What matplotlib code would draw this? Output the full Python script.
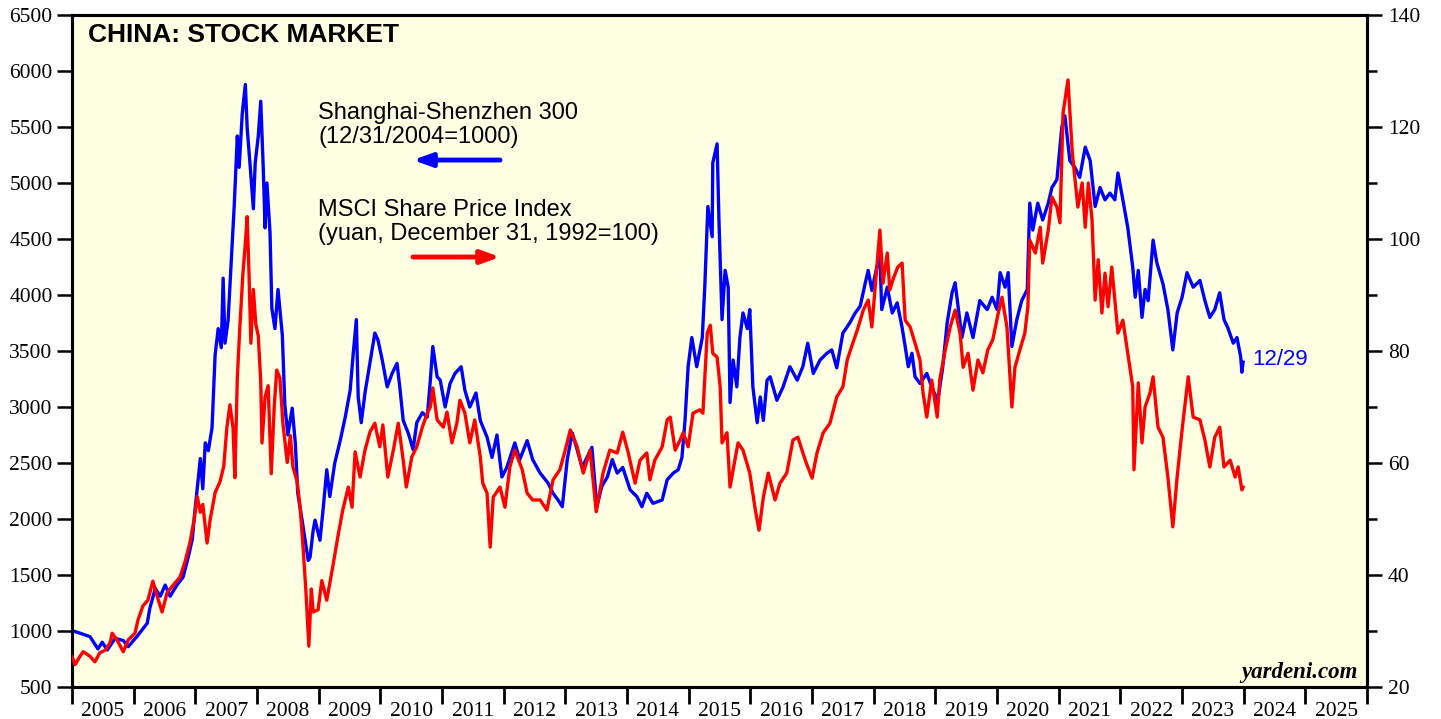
import matplotlib
matplotlib.use("Agg")
import matplotlib.pyplot as plt
from matplotlib.ticker import MultipleLocator, NullFormatter

# Shanghai-Shenzhen 300 (left axis), decimal years
csi_dates = [2005.00, 2005.05, 2005.29, 2005.42, 2005.49, 2005.57, 2005.70, 2005.83, 2005.91, 2006.05,
             2006.22, 2006.26, 2006.35, 2006.43, 2006.51, 2006.59, 2006.70, 2006.80, 2006.88, 2006.95,
             2006.99, 2007.04, 2007.08, 2007.12, 2007.16, 2007.21, 2007.27, 2007.32, 2007.37, 2007.42,
             2007.45, 2007.48, 2007.53, 2007.59, 2007.63, 2007.68, 2007.71, 2007.76, 2007.81, 2007.84,
             2007.89, 2007.94, 2007.97, 2008.02, 2008.06, 2008.10, 2008.13, 2008.16, 2008.21, 2008.24,
             2008.29, 2008.34, 2008.41, 2008.45, 2008.50, 2008.57, 2008.62, 2008.66, 2008.73, 2008.78,
             2008.83, 2008.86, 2008.91, 2008.94, 2008.99, 2009.02, 2009.07, 2009.13, 2009.18, 2009.26,
             2009.35, 2009.43, 2009.51, 2009.56, 2009.61, 2009.64, 2009.69, 2009.75, 2009.83, 2009.91,
             2009.96, 2010.03, 2010.11, 2010.19, 2010.27, 2010.32, 2010.37, 2010.45, 2010.53, 2010.59,
             2010.68, 2010.76, 2010.81, 2010.85, 2010.92, 2010.97, 2011.05, 2011.13, 2011.21, 2011.31,
             2011.37, 2011.45, 2011.55, 2011.62, 2011.73, 2011.81, 2011.89, 2011.97, 2012.05, 2012.18,
             2012.26, 2012.38, 2012.47, 2012.59, 2012.72, 2012.80, 2012.88, 2012.95, 2013.03, 2013.11,
             2013.19, 2013.27, 2013.35, 2013.43, 2013.51, 2013.59, 2013.68, 2013.76, 2013.84, 2013.93,
             2014.05, 2014.16, 2014.24, 2014.32, 2014.42, 2014.57, 2014.65, 2014.75, 2014.83, 2014.89,
             2014.94, 2014.99, 2015.05, 2015.13, 2015.22, 2015.26, 2015.31, 2015.38, 2015.39, 2015.46,
             2015.49, 2015.54, 2015.59, 2015.64, 2015.67, 2015.72, 2015.78, 2015.83, 2015.88, 2015.95,
             2015.99, 2016.04, 2016.11, 2016.16, 2016.21, 2016.27, 2016.32, 2016.43, 2016.53, 2016.64,
             2016.76, 2016.85, 2016.93, 2017.02, 2017.13, 2017.24, 2017.32, 2017.40, 2017.50, 2017.61,
             2017.70, 2017.78, 2017.86, 2017.91, 2017.97, 2018.05, 2018.10, 2018.13, 2018.22, 2018.30,
             2018.38, 2018.46, 2018.51, 2018.56, 2018.62, 2018.67, 2018.75, 2018.86, 2018.96, 2019.04,
             2019.12, 2019.19, 2019.27, 2019.32, 2019.37, 2019.43, 2019.51, 2019.61, 2019.72, 2019.84,
             2019.92, 2020.00, 2020.05, 2020.13, 2020.18, 2020.24, 2020.32, 2020.40, 2020.49, 2020.53,
             2020.58, 2020.66, 2020.74, 2020.83, 2020.89, 2020.97, 2021.05, 2021.10, 2021.18, 2021.26,
             2021.34, 2021.43, 2021.51, 2021.59, 2021.67, 2021.75, 2021.83, 2021.91, 2021.96, 2022.04,
             2022.12, 2022.20, 2022.24, 2022.29, 2022.35, 2022.40, 2022.45, 2022.53, 2022.59, 2022.69,
             2022.77, 2022.85, 2022.92, 2023.00, 2023.08, 2023.18, 2023.29, 2023.37, 2023.45, 2023.53,
             2023.61, 2023.68, 2023.74, 2023.83, 2023.89, 2023.95, 2023.97, 2023.99]
csi_values = [1000, 995, 950, 840, 900, 830, 935, 915, 860, 950,
              1070, 1200, 1380, 1310, 1410, 1310, 1410, 1480, 1650, 1820,
              2060, 2330, 2540, 2270, 2680, 2610, 2815, 3465, 3700, 3530,
              4150, 3570, 3770, 4390, 4800, 5420, 5140, 5620, 5880, 5490,
              5140, 4770, 5180, 5420, 5730, 5140, 4600, 5000, 4560, 3880,
              3700, 4050, 3640, 3020, 2750, 2990, 2680, 2230, 1990, 1810,
              1630, 1660, 1900, 1990, 1875, 1810, 2080, 2440, 2200, 2500,
              2705, 2910, 3150, 3480, 3780, 3090, 2860, 3125, 3390, 3660,
              3600, 3420, 3180, 3300, 3390, 3150, 2880, 2770, 2620, 2860,
              2950, 2910, 3240, 3540, 3270, 3240, 3000, 3210, 3300, 3360,
              3150, 3000, 3125, 2880, 2730, 2550, 2750, 2375, 2460, 2680,
              2530, 2700, 2530, 2410, 2320, 2230, 2170, 2110, 2530, 2770,
              2620, 2460, 2550, 2640, 2110, 2290, 2375, 2530, 2410, 2460,
              2260, 2200, 2110, 2230, 2140, 2170, 2350, 2410, 2440, 2550,
              2880, 3360, 3620, 3360, 3620, 4070, 4790, 4520, 5180, 5350,
              4670, 3780, 4220, 4070, 3040, 3420, 3180, 3620, 3840, 3700,
              3870, 3180, 2860, 3090, 2880, 3240, 3270, 3060, 3180, 3360,
              3240, 3360, 3570, 3300, 3420, 3480, 3510, 3350, 3660, 3750,
              3840, 3900, 4100, 4220, 4040, 4250, 4340, 3870, 4070, 3840,
              3930, 3710, 3540, 3360, 3480, 3270, 3210, 3300, 3150, 3060,
              3360, 3750, 4020, 4110, 3890, 3620, 3840, 3620, 3950, 3870,
              3980, 3870, 4200, 4070, 4200, 3540, 3780, 3950, 4050, 4820,
              4580, 4820, 4670, 4820, 4960, 5030, 5500, 5600, 5200, 5140,
              5050, 5320, 5200, 4790, 4960, 4850, 4910, 4850, 5090, 4850,
              4600, 4250, 3980, 4220, 3800, 4050, 3950, 4490, 4290, 4100,
              3870, 3510, 3840, 3980, 4200, 4070, 4130, 3950, 3800, 3870,
              4020, 3780, 3710, 3570, 3620, 3450, 3310, 3400]

# MSCI China share price index in yuan (right axis)
msci_dates = [2005.00, 2005.05, 2005.13, 2005.18, 2005.29, 2005.37, 2005.45, 2005.54, 2005.62, 2005.65,
              2005.73, 2005.83, 2005.91, 2006.02, 2006.07, 2006.15, 2006.23, 2006.31, 2006.38, 2006.46,
              2006.54, 2006.64, 2006.75, 2006.83, 2006.91, 2006.98, 2007.03, 2007.08, 2007.12, 2007.19,
              2007.24, 2007.32, 2007.40, 2007.46, 2007.51, 2007.56, 2007.61, 2007.64, 2007.68, 2007.72,
              2007.77, 2007.81, 2007.84, 2007.87, 2007.90, 2007.94, 2007.98, 2008.02, 2008.06, 2008.08,
              2008.13, 2008.18, 2008.23, 2008.28, 2008.32, 2008.37, 2008.42, 2008.49, 2008.54, 2008.58,
              2008.65, 2008.70, 2008.75, 2008.79, 2008.84, 2008.88, 2008.91, 2008.99, 2009.05, 2009.13,
              2009.22, 2009.31, 2009.39, 2009.48, 2009.54, 2009.59, 2009.67, 2009.75, 2009.83, 2009.91,
              2009.99, 2010.04, 2010.12, 2010.21, 2010.29, 2010.37, 2010.42, 2010.51, 2010.59, 2010.68,
              2010.76, 2010.81, 2010.85, 2010.92, 2011.02, 2011.08, 2011.16, 2011.24, 2011.29, 2011.37,
              2011.45, 2011.53, 2011.62, 2011.66, 2011.73, 2011.78, 2011.83, 2011.94, 2012.02, 2012.10,
              2012.18, 2012.30, 2012.38, 2012.47, 2012.59, 2012.70, 2012.80, 2012.91, 2012.99, 2013.08,
              2013.19, 2013.29, 2013.40, 2013.50, 2013.61, 2013.72, 2013.84, 2013.93, 2014.02, 2014.13,
              2014.21, 2014.32, 2014.37, 2014.45, 2014.57, 2014.65, 2014.70, 2014.78, 2014.86, 2014.91,
              2014.99, 2015.07, 2015.18, 2015.23, 2015.30, 2015.35, 2015.39, 2015.46, 2015.51, 2015.54,
              2015.62, 2015.67, 2015.72, 2015.80, 2015.88, 2015.99, 2016.08, 2016.14, 2016.21, 2016.29,
              2016.40, 2016.48, 2016.59, 2016.69, 2016.77, 2016.89, 2017.00, 2017.08, 2017.18, 2017.29,
              2017.40, 2017.50, 2017.57, 2017.66, 2017.75, 2017.83, 2017.91, 2017.97, 2018.05, 2018.10,
              2018.15, 2018.22, 2018.26, 2018.31, 2018.39, 2018.46, 2018.51, 2018.59, 2018.67, 2018.75,
              2018.80, 2018.86, 2018.94, 2019.03, 2019.07, 2019.16, 2019.24, 2019.32, 2019.40, 2019.45,
              2019.53, 2019.61, 2019.69, 2019.77, 2019.85, 2019.93, 2020.02, 2020.08, 2020.16, 2020.24,
              2020.29, 2020.37, 2020.45, 2020.50, 2020.53, 2020.62, 2020.70, 2020.74, 2020.83, 2020.89,
              2020.97, 2021.02, 2021.07, 2021.15, 2021.22, 2021.26, 2021.31, 2021.38, 2021.43, 2021.48,
              2021.54, 2021.59, 2021.64, 2021.70, 2021.75, 2021.80, 2021.86, 2021.91, 2021.96, 2022.04,
              2022.12, 2022.20, 2022.22, 2022.29, 2022.35, 2022.40, 2022.48, 2022.53, 2022.61, 2022.69,
              2022.77, 2022.85, 2022.92, 2023.00, 2023.10, 2023.18, 2023.29, 2023.37, 2023.45, 2023.53,
              2023.61, 2023.68, 2023.78, 2023.86, 2023.91, 2023.97, 2023.99]
msci_values = [25.4, 24.0, 25.5, 26.3, 25.5, 24.5, 26.1, 26.6, 28.0, 29.6,
               28.4, 26.3, 28.4, 29.6, 32.0, 34.5, 35.5, 38.9, 36.2, 33.4,
               36.8, 38.2, 39.6, 42.3, 45.7, 49.9, 54.0, 51.2, 52.6, 45.7,
               49.9, 54.7, 56.7, 59.4, 66.3, 70.4, 66.3, 57.4, 75.2, 84.1,
               93.7, 99.2, 104.0, 93.7, 81.4, 91.0, 84.8, 82.7, 74.5, 63.6,
               71.8, 73.8, 58.1, 70.4, 76.6, 75.2, 67.0, 60.1, 64.9, 59.4,
               56.7, 51.9, 44.4, 37.5, 27.3, 37.5, 33.4, 33.8, 39.0, 35.5,
               41.0, 46.8, 51.6, 55.7, 52.1, 62.0, 57.5, 62.3, 65.5, 67.1,
               62.9, 66.8, 57.5, 62.3, 67.1, 60.5, 55.7, 61.1, 62.9, 66.4,
               68.9, 70.0, 73.4, 67.7, 66.4, 69.1, 63.6, 67.1, 71.2, 68.9,
               63.6, 67.7, 61.1, 56.4, 54.6, 45.0, 53.9, 55.7, 52.1, 59.3,
               62.3, 58.8, 54.6, 53.4, 53.4, 51.6, 57.0, 58.8, 62.0, 65.9,
               62.9, 58.2, 62.3, 51.3, 58.2, 62.3, 61.8, 65.5, 61.8, 56.4,
               60.5, 61.8, 57.0, 60.5, 62.9, 67.7, 68.2, 62.3, 64.1, 65.4,
               62.9, 68.9, 69.5, 68.9, 83.2, 84.6, 79.6, 78.9, 73.6, 63.6,
               65.4, 55.7, 58.8, 63.6, 62.3, 58.2, 51.6, 48.0, 53.9, 58.2,
               53.4, 56.4, 58.2, 64.1, 64.6, 60.5, 57.3, 61.8, 65.4, 67.1,
               71.8, 73.6, 78.4, 81.4, 84.3, 87.3, 89.1, 84.3, 95.0, 101.6,
               92.1, 97.5, 90.9, 92.7, 95.0, 95.7, 85.5, 84.3, 81.4, 78.4,
               72.5, 68.2, 74.8, 68.2, 74.8, 80.2, 84.3, 87.3, 83.2, 77.1,
               79.6, 73.0, 78.4, 76.1, 80.2, 82.0, 86.8, 89.6, 84.3, 70.0,
               77.1, 80.2, 83.2, 87.9, 99.8, 97.5, 102.1, 95.7, 101.6, 107.5,
               105.7, 102.9, 122.5, 128.4, 115.4, 111.1, 105.7, 110.0, 102.1, 110.0,
               103.4, 89.1, 96.3, 86.8, 93.9, 87.9, 95.0, 89.1, 83.2, 85.5,
               79.6, 73.6, 58.8, 74.3, 63.6, 70.0, 72.5, 75.4, 66.4, 64.6,
               57.5, 48.6, 57.5, 65.9, 75.4, 68.2, 67.7, 64.1, 59.3, 64.6,
               66.4, 59.3, 60.5, 57.5, 59.3, 55.2, 55.7]

years = list(range(2005, 2026))
year_labels = [str(y) for y in years]

serif = ['Liberation Serif', 'DejaVu Serif']
sans = ['Liberation Sans', 'DejaVu Sans']

fig = plt.figure(figsize=(14.41, 7.19), dpi=100)
ax = fig.add_axes([0.050, 0.0445, 0.8987, 0.9346])
ax.set_facecolor('#FFFFE4')
ax2 = ax.twinx()

ax.plot(csi_dates, csi_values, color='#0000FF', lw=2.4, zorder=3)
ax2.plot(msci_dates, msci_values, color='#FF0000', lw=2.4, zorder=3)

ax.set_xlim(2005, 2026)
ax.set_ylim(500, 6500)
ax2.set_ylim(20, 140)

# x axis: long ticks at year boundaries, labels centred on each year
ax.set_xticks(list(range(2005, 2027)))
ax.xaxis.set_major_formatter(NullFormatter())
ax.set_xticks([y + 0.5 for y in years], minor=True)
ax.set_xticklabels(year_labels, minor=True, fontfamily=serif, fontsize=15.5)
ax.tick_params(axis='x', which='major', direction='out', length=12, width=2)
ax.tick_params(axis='x', which='minor', length=0, pad=11)

ax.yaxis.set_major_locator(MultipleLocator(500))
ax.tick_params(axis='y', which='major', direction='out', length=11, width=1.8, pad=3)
for lbl in ax.get_yticklabels():
    lbl.set_fontfamily(serif)
    lbl.set_fontsize(15.5)

ax2.yaxis.set_major_locator(MultipleLocator(20))
ax2.yaxis.set_minor_locator(MultipleLocator(10))
ax2.tick_params(axis='y', which='major', direction='out', length=11, width=1.8, pad=4)
ax2.tick_params(axis='y', which='minor', direction='out', length=7, width=1.8)
for lbl in ax2.get_yticklabels():
    lbl.set_fontfamily(serif)
    lbl.set_fontsize(15.5)

for a in (ax, ax2):
    for s in a.spines.values():
        s.set_linewidth(2.2)

ax.text(0.0124, 0.970, 'CHINA: STOCK MARKET', transform=ax.transAxes,
        fontsize=19, fontweight='bold', fontfamily=sans, va='center', ha='left')

ax.text(0.190, 0.870, 'Shanghai-Shenzhen 300\n(12/31/2004=1000)', transform=ax.transAxes,
        fontsize=17, fontfamily=sans, va='top', ha='left', linespacing=1.1)
ax.annotate('', xy=(0.2633, 0.7842), xytext=(0.3305, 0.7842), xycoords='axes fraction',
            arrowprops=dict(arrowstyle='-|>,head_length=1.1,head_width=0.4', color='#0000FF',
                            lw=3.5, shrinkA=0, shrinkB=0))

ax.text(0.190, 0.726, 'MSCI Share Price Index\n(yuan, December 31, 1992=100)', transform=ax.transAxes,
        fontsize=17, fontfamily=sans, va='top', ha='left', linespacing=1.1)
ax.annotate('', xy=(0.3305, 0.6399), xytext=(0.2633, 0.6399), xycoords='axes fraction',
            arrowprops=dict(arrowstyle='-|>,head_length=1.1,head_width=0.4', color='#FF0000',
                            lw=3.5, shrinkA=0, shrinkB=0))

ax2.text(2024.13, 78.4, '12/29', color='#0000FF', fontsize=16, fontfamily=sans,
         va='center', ha='left')

ax.text(0.993, 0.0223, 'yardeni.com', transform=ax.transAxes, fontsize=16.5,
        fontfamily=serif, fontweight='bold', fontstyle='italic', va='center', ha='right')

fig.savefig('out.png', dpi=100)
